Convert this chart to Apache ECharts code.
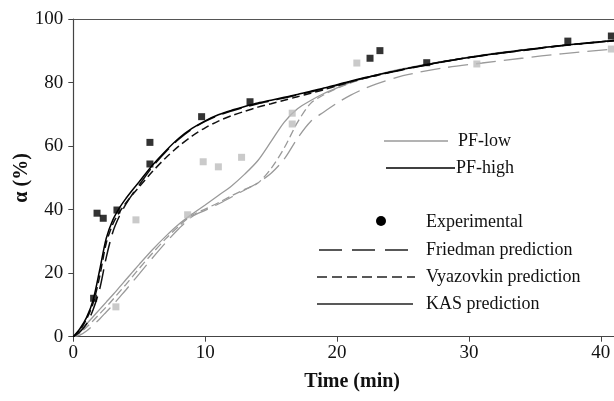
<!DOCTYPE html>
<html>
<head>
<meta charset="utf-8">
<script src="https://cdn.jsdelivr.net/npm/echarts@6/dist/echarts.min.js"></script>
<style>
  html, body { margin: 0; padding: 0; background: #fff; }
  #chart { width: 614px; height: 401px; }
</style>
</head>
<body>
<div id="chart"></div>
<script>
// time grid for the model curves (min)
const tCurve = [0, 0.5, 1, 1.5, 2, 2.5, 3, 3.5, 4, 4.5, 5, 6, 7, 8, 9, 10, 11, 12, 13, 14, 15, 16, 17, 18, 19, 20, 21, 22, 23, 25, 28, 31, 34, 37, 41]

// PF-high predictions (black)
const highKAS = [0, 2.5, 6, 11.5, 21, 31, 36.8, 40.6, 43.6, 46.3, 48.8, 54, 58.5, 62.5, 65.6, 68, 69.9, 71.3, 72.5, 73.6, 74.5, 75.4, 76.3, 77.3, 78.3, 79.4, 80.5, 81.5, 82.4, 84.2, 86.6, 88.6, 90.2, 91.7, 93.3]
const highFriedman = [0, 1.5, 4, 8.5, 15, 25, 33, 38, 41.8, 45, 47.8, 53.5, 58.2, 62.2, 65.4, 67.8, 69.7, 71.1, 72.3, 73.4, 74.3, 75.2, 76.1, 77.1, 78.1, 79.2, 80.3, 81.4, 82.3, 84.1, 86.5, 88.5, 90.1, 91.6, 93.2]
const highVyazovkin = [0, 2, 5.5, 10.5, 19, 29.5, 35.5, 39.2, 42.2, 44.8, 47.2, 52, 56.3, 60, 63.2, 65.8, 67.9, 69.6, 71, 72.3, 73.4, 74.5, 75.6, 76.7, 77.8, 79, 80.2, 81.3, 82.3, 84.2, 86.6, 88.6, 90.2, 91.7, 93.3]

// PF-low predictions (grey)
const lowKAS = [0, 2, 4, 6.3, 8.6, 10.9, 13.2, 15.6, 18, 20.4, 22.8, 27.4, 31.6, 35.4, 38.6, 41.5, 44.5, 47.5, 51.2, 55.5, 61.5, 67.6, 71.8, 74.4, 76.6, 78.4, 80, 81.4, 82.5, 84.4, 86.7, 88.7, 90.3, 91.7, 93.3]
const lowFriedman = [0, 0.5, 1.8, 3.6, 5.6, 7.8, 10, 12.4, 14.8, 17.3, 19.8, 24.8, 29.6, 34, 37.8, 39.8, 41.8, 44, 46.2, 48.5, 51.5, 56, 62.5, 67.8, 70.8, 73.6, 76, 78, 79.6, 82.2, 84.6, 86.2, 87.7, 89.1, 90.6]
const lowVyazovkin = [0, 1.2, 3, 5, 7.2, 9.4, 11.7, 14.1, 16.5, 19, 21.5, 26.3, 30.8, 34.8, 38.2, 40.2, 42.2, 44.4, 46.4, 48.4, 53, 59.5, 67.5, 73.5, 76.2, 78.2, 79.9, 81.3, 82.4, 84.3, 86.6, 88.6, 90.2, 91.6, 93.2]

// experimental points
const expHighT = [1.54, 1.8, 2.27, 3.31, 5.81, 5.81, 9.73, 13.4, 22.5, 23.25, 26.8, 37.5, 40.8]
const expHighA = [12.1, 38.9, 37.3, 39.9, 54.4, 61.2, 69.3, 74.0, 87.7, 90.1, 86.3, 93.1, 94.7]
const expLowT = [3.23, 4.75, 8.67, 9.85, 11.0, 12.76, 16.6, 16.6, 21.5, 30.6, 40.8]
const expLowA = [9.4, 36.8, 38.4, 55.1, 53.5, 56.5, 70.4, 67.0, 86.2, 85.9, 90.6]

const xTicks = [0, 10, 20, 30, 40]

const pair = (xs, ys) => xs.map((x, i) => [x, ys[i]])
const FONT = 'Liberation Serif'
const GREY = '#9a9a9a'
const LONG_DASH = [20, 8]
const SHORT_DASH = [8, 4]

const lineSeries = (name, data, color, width, dash, z) => ({
  name,
  type: 'line',
  data: pair(tCurve, data),
  smooth: 0.3,
  showSymbol: false,
  symbol: 'none',
  z,
  lineStyle: { color, width, type: dash || 'solid' }
})

const chart = echarts.init(document.getElementById('chart'), null, { renderer: 'canvas' })

// hand-made legend blocks
const legendLine = (x1, x2, y, color, dash, width) => ({
  type: 'line',
  shape: { x1, y1: y, x2, y2: y },
  style: { stroke: color, lineWidth: width || 1.3, lineDash: dash || null }
})
const legendText = (x, y, text) => ({
  type: 'text',
  x, y,
  style: { text, font: '18px "' + FONT + '"', fill: '#111', verticalAlign: 'middle' }
})

chart.setOption({
  animation: false,
  backgroundColor: '#fff',
  grid: { left: 73.3, top: 19.2, right: 0, bottom: 64.3 },
  xAxis: [{
    type: 'value',
    min: 0,
    max: 41,
    interval: 10,
    name: 'Time (min)',
    nameLocation: 'middle',
    nameGap: 35,
    nameMoveOverlap: false,
    nameTextStyle: { fontFamily: FONT, fontSize: 20, fontWeight: 'bold', color: '#111', padding: [0, 0, 0, 17] },
    axisLine: { lineStyle: { color: '#444', width: 1.2 } },
    axisTick: { length: 5, lineStyle: { color: '#444' } },
    axisLabel: {
      fontFamily: FONT, fontSize: 19, color: '#111', margin: 7,
      showMaxLabel: false,
      formatter: v => (xTicks.indexOf(v) >= 0 ? String(v) : '')
    },
    splitLine: { show: false }
  }, {
    type: 'value',
    position: 'top',
    min: 0,
    max: 41,
    axisLine: { lineStyle: { color: '#555', width: 1.2 } },
    axisTick: { show: false },
    axisLabel: { show: false },
    splitLine: { show: false }
  }],
  yAxis: {
    type: 'value',
    min: 0,
    max: 100,
    interval: 20,
    name: 'α (%)',
    nameLocation: 'middle',
    nameGap: 41,
    nameMoveOverlap: false,
    nameTextStyle: { fontFamily: FONT, fontSize: 20, fontWeight: 'bold', color: '#111' },
    axisLine: { show: true, lineStyle: { color: '#444', width: 1.2 } },
    axisTick: { show: true, length: 5, lineStyle: { color: '#444' } },
    axisLabel: { fontFamily: FONT, fontSize: 19, color: '#111', margin: 10 },
    splitLine: { show: false }
  },
  series: [
    lineSeries('Friedman low', lowFriedman, GREY, 1.3, LONG_DASH, 2),
    lineSeries('Vyazovkin low', lowVyazovkin, GREY, 1.3, SHORT_DASH, 2),
    lineSeries('KAS low', lowKAS, GREY, 1.3, null, 2),
    lineSeries('Friedman high', highFriedman, '#111', 1.5, LONG_DASH, 3),
    lineSeries('Vyazovkin high', highVyazovkin, '#111', 1.5, SHORT_DASH, 3),
    lineSeries('KAS high', highKAS, '#000', 1.5, null, 3),
    {
      name: 'Experimental low',
      type: 'scatter',
      data: pair(expLowT, expLowA),
      symbol: 'rect',
      symbolSize: 7,
      z: 5,
      itemStyle: { color: '#bdbdbd' }
    },
    {
      name: 'Experimental high',
      type: 'scatter',
      data: pair(expHighT, expHighA),
      symbol: 'rect',
      symbolSize: 7,
      z: 5,
      itemStyle: { color: '#000' }
    }
  ],
  graphic: [
    legendLine(384, 448, 141, GREY, null, 1.3),
    legendText(458, 141, 'PF-low'),
    legendLine(386, 455, 168, '#000', null, 1.5),
    legendText(456, 168, 'PF-high'),
    { type: 'circle', shape: { cx: 381, cy: 221, r: 5 }, style: { fill: '#000' } },
    legendText(426, 222, 'Experimental'),
    legendLine(319, 415, 250, '#222', [23, 10], 1.3),
    legendText(426, 250, 'Friedman prediction'),
    legendLine(317, 415, 277, '#222', [10, 5], 1.3),
    legendText(426, 277, 'Vyazovkin prediction'),
    legendLine(317, 413, 304, '#222', null, 1.3),
    legendText(426, 304, 'KAS prediction')
  ]
})
</script>
</body>
</html>
